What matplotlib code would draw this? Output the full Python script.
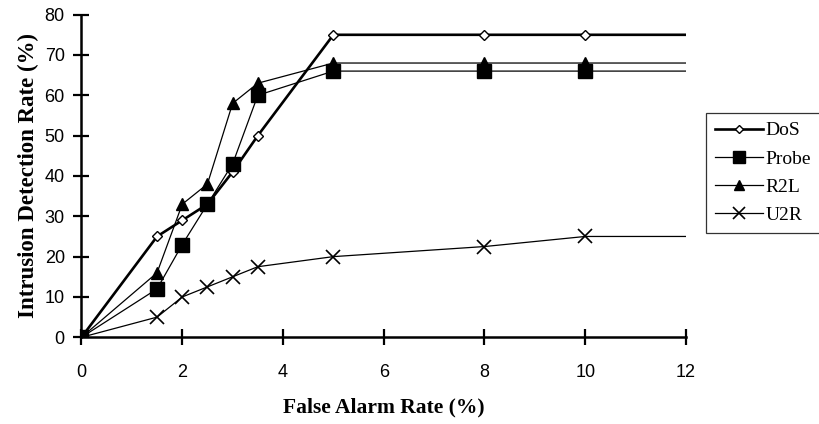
import matplotlib
matplotlib.use("Agg")
import matplotlib.pyplot as plt
from matplotlib import font_manager

# false alarm rate (%) and detection rate (%) per attack class
far = [0, 1.5, 2, 2.5, 3, 3.5, 5, 8, 10, 12]
dos = [0, 25, 29, 33, 41, 50, 75, 75, 75, 75]
probe = [0, 12, 23, 33, 43, 60, 66, 66, 66, 66]
r2l = [0, 16, 33, 38, 58, 63, 68, 68, 68, 68]
u2r = [0, 5, 10, 12.5, 15, 17.5, 20, 22.5, 25, 25]

names = [f.name for f in font_manager.fontManager.ttflist]
tick_font = "Liberation Sans Narrow" if "Liberation Sans Narrow" in names else "Liberation Sans"
serif = "Liberation Serif"

fig = plt.figure(figsize=(8.2, 4.24), dpi=100)
ax = fig.add_axes([81.5 / 820, 0.2045, (686 - 81.5) / 820, 0.761])

marks = list(range(len(far) - 1))  # last point only extends the line
ax.plot(far, dos, color="black", lw=1.9, marker="D", ms=5, mfc="white",
        mec="black", mew=1.0, markevery=marks, label="DoS", zorder=2)
ax.plot(far, probe, color="black", lw=0.9, marker="s", ms=9.5,
        markevery=marks, label="Probe", zorder=3)
ax.plot(far, r2l, color="black", lw=0.9, marker="^", ms=9,
        markevery=marks, label="R2L", zorder=2)
ax.plot(far, u2r, color="black", lw=0.9, marker="x", ms=10, mew=1.2,
        markevery=marks, label="U2R", zorder=2)

ax.set_xlim(0, 12)
ax.set_ylim(0, 80)
ax.set_xticks(range(0, 13, 2))
ax.set_yticks(range(0, 81, 10))
for s in ["top", "right"]:
    ax.spines[s].set_visible(False)
for s in ["left", "bottom"]:
    ax.spines[s].set_linewidth(1.8)
    ax.spines[s].set_zorder(1)
ax.tick_params(direction="inout", length=12, width=1.6, labelsize=13)
ax.tick_params(axis="x", pad=13)
ax.tick_params(axis="y", pad=6)
for lbl in ax.get_xticklabels() + ax.get_yticklabels():
    lbl.set_fontfamily(tick_font)

ax.set_xlabel("False Alarm Rate (%)", fontfamily=serif, fontweight="bold",
              fontsize=15.5, labelpad=12)
ax.set_ylabel("Intrusion Detection Rate (%)", fontfamily=serif,
              fontweight="bold", fontsize=16.5, labelpad=4)

leg = fig.legend(loc="upper left", bbox_to_anchor=(706 / 820, 1 - 113 / 424),
                 borderaxespad=0, frameon=True, fancybox=False,
                 edgecolor="black", handlelength=2.5, handletextpad=0.1,
                 labelspacing=0.55, borderpad=0.45, markerscale=0.85,
                 prop={"family": serif, "size": 14})
leg.get_frame().set_linewidth(0.9)

fig.savefig("out.png", dpi=100)
